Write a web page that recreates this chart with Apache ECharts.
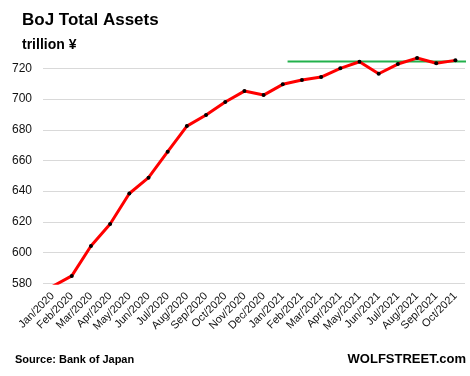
<!DOCTYPE html>
<html>
<head>
<meta charset="utf-8">
<script src="https://cdn.jsdelivr.net/npm/echarts@6/dist/echarts.min.js"></script>
<style>
  html, body { margin: 0; padding: 0; background: #fff; }
  #chart { width: 470px; height: 376px; }
</style>
</head>
<body>
<div id="chart"></div>
<script>
// months on the x axis
const months = ['Jan/2020', 'Feb/2020', 'Mar/2020', 'Apr/2020', 'May/2020', 'Jun/2020',
  'Jul/2020', 'Aug/2020', 'Sep/2020', 'Oct/2020', 'Nov/2020', 'Dec/2020',
  'Jan/2021', 'Feb/2021', 'Mar/2021', 'Apr/2021', 'May/2021', 'Jun/2021',
  'Jul/2021', 'Aug/2021', 'Sep/2021', 'Oct/2021']
// total assets, trillion yen
const assets = [578, 584.8, 604.3, 618.6, 638.5, 648.8, 665.7, 682.4, 689.6, 698.1, 705.2, 702.6,
  709.6, 712.4, 714.3, 720.0, 724.3, 716.5, 722.8, 726.7, 723.3, 725.2]
// the horizontal reference line at the May 2021 high (x in month index units)
const highLine = [[12.25, 724.5], [22.3, 724.5]]

const font = 'Liberation Sans'
const chart = echarts.init(document.getElementById('chart'))
chart.setOption({
  animation: false,
  title: [
    {
      text: 'BoJ Total Assets', left: 22, top: 12, padding: 0,
      textStyle: { fontFamily: font, fontWeight: 'bold', fontSize: 17, color: '#000' }
    },
    {
      text: 'trillion ¥', left: 22, top: 38, padding: 0,
      textStyle: { fontFamily: font, fontWeight: 'bold', fontSize: 14, color: '#000' }
    },
    {
      text: 'Source: Bank of Japan', left: 15, top: 354, padding: 0,
      textStyle: { fontFamily: font, fontWeight: 'bold', fontSize: 11, color: '#000' }
    },
    {
      text: 'WOLFSTREET.com', right: 4, top: 353, padding: 0,
      textStyle: { fontFamily: font, fontWeight: 'bold', fontSize: 13, color: '#000' }
    }
  ],
  grid: { left: 43, right: 5, top: 53, bottom: 92.7 },
  xAxis: [
    {
      type: 'category',
      data: months,
      boundaryGap: true,
      axisLine: { show: false },
      axisTick: { show: false },
      axisLabel: {
        interval: 0, rotate: 45, margin: 11,
        fontFamily: font, fontSize: 11, color: '#111'
      }
    },
    {
      type: 'value', min: -0.5, max: 21.5, show: false
    }
  ],
  yAxis: {
    type: 'value',
    min: 580, max: 730, interval: 20,
    axisLine: { show: false },
    axisTick: { show: false },
    splitLine: { show: true, showMaxLine: false, lineStyle: { color: '#d9d9d9', width: 1 } },
    axisLabel: {
      showMaxLabel: false,
      margin: 11,
      fontFamily: font, fontSize: 12, color: '#111',
      formatter: v => (v % 20 === 0 ? String(v) : '')
    }
  },
  series: [
    {
      type: 'line',
      data: highLine,
      xAxisIndex: 1,
      clip: false,
      symbol: 'none',
      lineStyle: { color: '#22b14c', width: 2 },
      z: 3
    },
    {
      type: 'line',
      data: assets,
      symbol: 'circle',
      symbolSize: 4,
      itemStyle: { color: '#000' },
      lineStyle: { color: '#ff0000', width: 3 },
      z: 4
    }
  ]
})
</script>
</body>
</html>
